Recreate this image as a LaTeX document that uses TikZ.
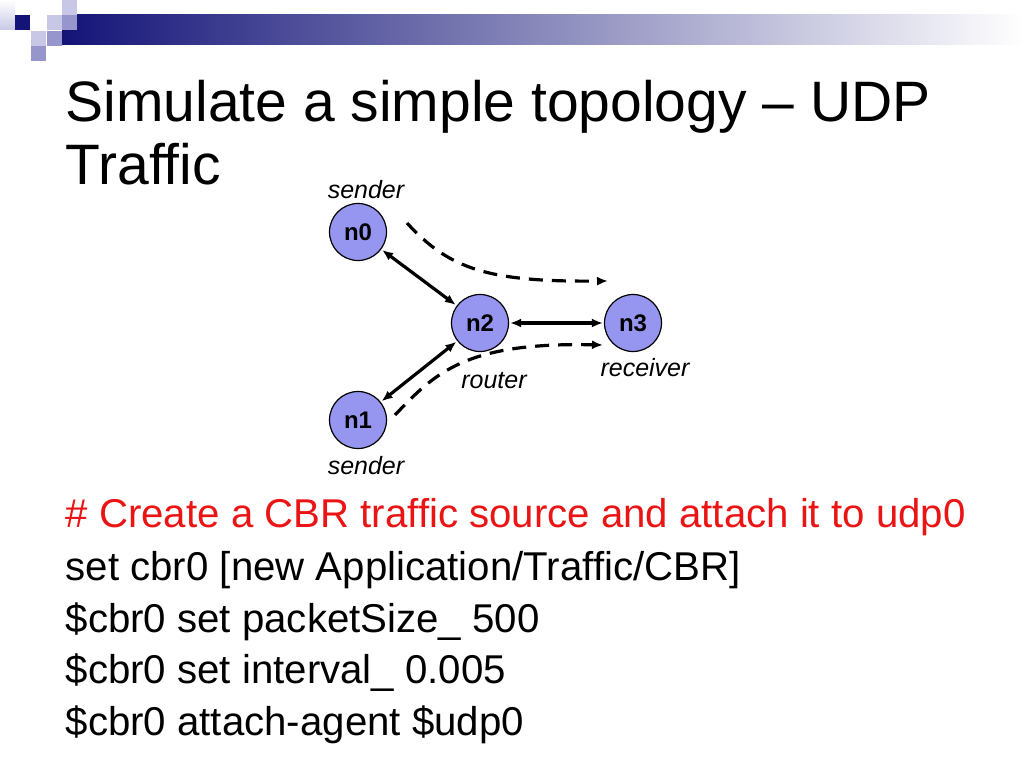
\documentclass[tikz,border=0pt]{standalone}
\usepackage{fontspec}
\setmainfont{Liberation Sans}
\usetikzlibrary{arrows.meta}
\definecolor{navybar}{RGB}{20,20,120}
\definecolor{midbar}{RGB}{150,150,180}
\definecolor{lightsq}{RGB}{200,200,230}
\definecolor{medsq}{RGB}{150,150,205}
\definecolor{nodefill}{RGB}{150,150,240}
\definecolor{commentred}{RGB}{235,20,20}

\begin{document}
\begin{tikzpicture}[x=1pt, y=-1pt, thick,
  main/.style = {draw, circle, fill=nodefill, line width=1.2pt, minimum size=57pt, inner sep=0pt,
                 font=\fontsize{24}{24}\selectfont\bfseries},
  role/.style = {font=\fontsize{25}{25}\selectfont\itshape},
  link/.style = {{Latex[length=11pt,width=9pt]}-{Latex[length=11pt,width=9pt]}, line width=3.2pt, shorten <=1pt, shorten >=1pt},
  flow/.style = {-{Latex[length=11pt,width=9pt]}, line width=3.2pt, dash pattern=on 14pt off 9pt},
  line/.style = {anchor=base west, font=\fontsize{40.2}{40}\selectfont},
  title/.style = {anchor=base west, font=\fontsize{57}{57}\selectfont}]
\useasboundingbox (0,0) rectangle (1024,768);
\fill[white] (0,0) rectangle (1024,768);

% top left decoration
\shade[left color=navybar, middle color=midbar, right color=white] (62,15) rectangle (1024,45);
\shade[top color=white, bottom color=lightsq] (0,0) rectangle (15,30);
\fill[navybar] (15,15) rectangle (30,30);
\fill[lightsq] (62,0) rectangle (77,15);
\fill[lightsq] (47,15) rectangle (62,30);
\fill[medsq] (62,15) rectangle (77,30);
\fill[lightsq] (31,31) rectangle (46,46);
\fill[medsq] (47,31) rectangle (62,46);
\fill[medsq] (31,46) rectangle (46,61);

% title
\node[title] (t1) at (62,121) {Simulate a simple topology – UDP};
\node[title] (t2) at (62,184) {Traffic};

% topology
\node[main] (n0) at (358,232) {n0};
\node[main] (n1) at (358,420) {n1};
\node[main] (n2) at (480,323) {n2};
\node[main] (n3) at (633,323) {n3};

\node[role] (s0) at (366,190) {sender};
\node[role] (s1) at (366,466) {sender};
\node[role] (r2) at (494,381) {router};
\node[role] (r3) at (645,368) {receiver};

\path[link]
  (n0) edge (n2)
  (n1) edge (n2)
  (n2) edge (n3);

\coordinate (f0s) at (407,223);
\coordinate (f0e) at (608,281);
\coordinate (f1s) at (395,415);
\coordinate (f1e) at (603,345);
\draw[flow] (f0s) .. controls (450,270) and (490,282) .. (f0e);
\draw[flow] (f1s) .. controls (435,373) and (465,342) .. (f1e);

% code lines
\node[line, text=commentred] (c1) at (62,527) {\# Create a CBR traffic source and attach it to udp0};
\node[line] (c2) at (62,580) {set cbr0 [new Application/Traffic/CBR]};
\node[line] (c3) at (62,632) {\$cbr0 set packetSize\_ 500};
\node[line] (c4) at (62,683) {\$cbr0 set interval\_ 0.005};
\node[line] (c5) at (62,735) {\$cbr0 attach-agent \$udp0};
\end{tikzpicture}
\end{document}
